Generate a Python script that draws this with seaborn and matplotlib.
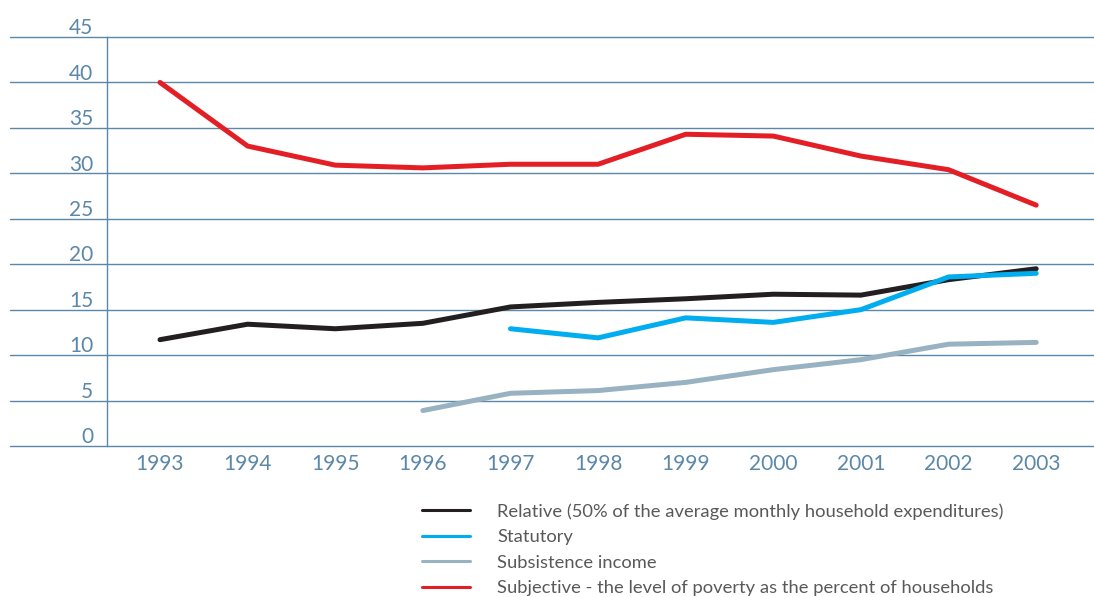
import matplotlib
matplotlib.use("Agg")
import matplotlib.pyplot as plt
import matplotlib.transforms as mtransforms
import seaborn as sns
import pandas as pd
import numpy as np

years = [1993, 1994, 1995, 1996, 1997, 1998, 1999, 2000, 2001, 2002, 2003]
relative = [11.7, 13.4, 12.9, 13.5, 15.3, 15.8, 16.2, 16.7, 16.6, 18.3, 19.5]
statutory = [None, None, None, None, 12.9, 11.9, 14.1, 13.6, 15.0, 18.6, 19.0]
subsistence = [None, None, None, 3.9, 5.8, 6.1, 7.0, 8.4, 9.5, 11.2, 11.4]
subjective = [40.0, 33.0, 30.9, 30.6, 31.0, 31.0, 34.3, 34.1, 31.9, 30.4, 26.5]

series_names = [
    "Relative (50% of the average monthly household expenditures)",
    "Statutory",
    "Subsistence income",
    "Subjective - the level of poverty as the percent of households",
]
series_values = [relative, statutory, subsistence, subjective]
series_colors = ["#231f20", "#00aeef", "#98b2c1", "#e31e25"]
yticks = [0, 5, 10, 15, 20, 25, 30, 35, 40, 45]

rows = []
for name, vals in zip(series_names, series_values):
    for y, v in zip(years, vals):
        if v is not None:
            rows.append({"year": y, "value": v, "series": name})
df = pd.DataFrame(rows)

sns.set_theme(style="white")
plt.rcParams["font.family"] = ["Lato", "DejaVu Sans"]

axis_color = "#5b87a8"
fig = plt.figure(figsize=(10.94, 5.97), dpi=100)
ax = fig.add_axes([107 / 1094, 1 - 446 / 597, 1 - 107 / 1094, (446 - 37) / 597])

draw_order = [1, 2, 0, 3]
handles = {}
for i in draw_order:
    sub = df[df["series"] == series_names[i]]
    sns.lineplot(data=sub, x="year", y="value", ax=ax, color=series_colors[i],
                 linewidth=3.6, legend=False, zorder=3 + i)
    handles[i] = ax.get_lines()[-1]

ax.set_xlim(1992.395, 2003.66)
ax.set_ylim(0, 45)
ax.set_xlabel("")
ax.set_ylabel("")

# gridlines extending to the left of the spine
for t in yticks:
    ax.axhline(t, xmin=-0.098, xmax=1, color=axis_color, linewidth=1.0,
               clip_on=False, zorder=1)

for s in ["top", "right", "bottom"]:
    ax.spines[s].set_visible(False)
ax.spines["left"].set_color(axis_color)
ax.spines["left"].set_linewidth(1.0)

ax.set_xticks(years)
ax.set_xticklabels([str(y) for y in years])
ax.set_yticks(yticks)
ax.set_yticklabels([str(t) for t in yticks])
ax.tick_params(axis="both", length=0, labelsize=15, colors=axis_color)
ax.tick_params(axis="x", pad=6)
ax.tick_params(axis="y", pad=10)
offset = mtransforms.ScaledTranslation(0, 2 / 72, fig.dpi_scale_trans)
for lab in ax.get_yticklabels():
    lab.set_va("baseline")
    lab.set_transform(lab.get_transform() + offset)

leg = ax.legend([handles[i] for i in range(4)], series_names,
                loc="upper left", bbox_to_anchor=(422 / 1094, 1 - 503 / 597),
                bbox_transform=fig.transFigure, frameon=False, fontsize=13.2,
                handlelength=2.6, handletextpad=1.5, labelspacing=0.52,
                borderpad=0, borderaxespad=0)
for txt in leg.get_texts():
    txt.set_color("#58595b")
for ln in leg.get_lines():
    ln.set_linewidth(2.2)

fig.savefig("out.png", dpi=100)
